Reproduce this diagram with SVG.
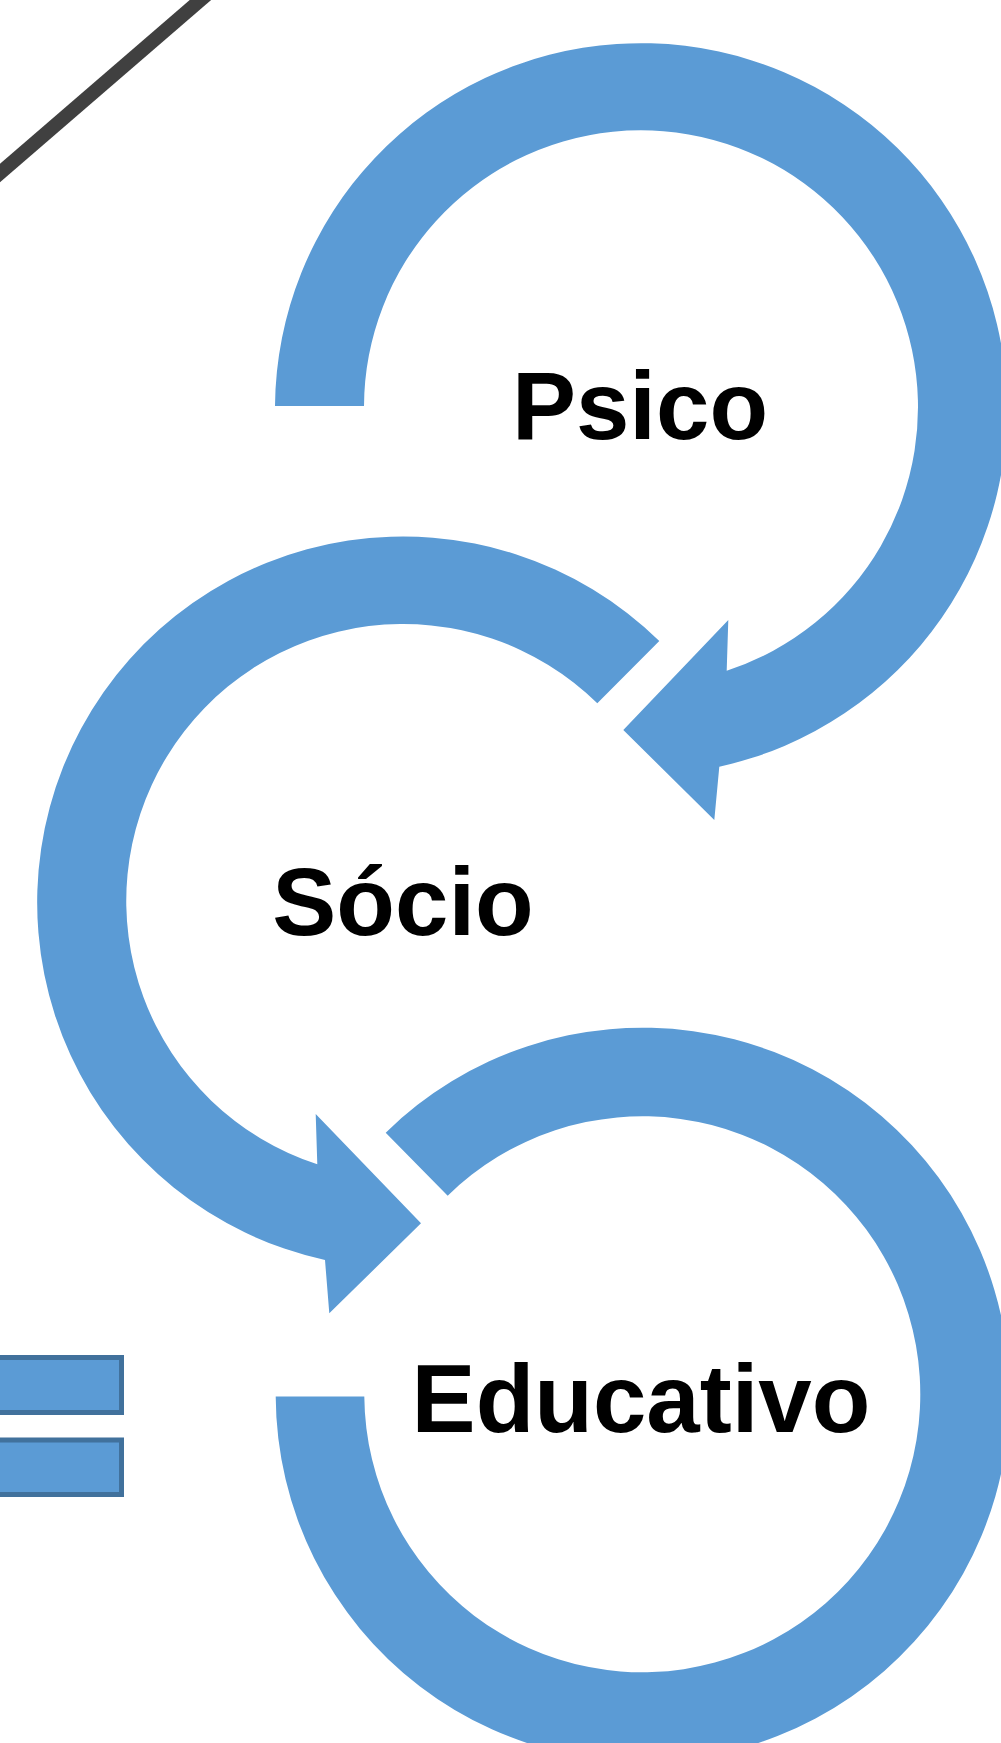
<svg xmlns="http://www.w3.org/2000/svg" width="1001" height="1743" viewBox="0 0 1001 1743">
<style>
.arrow{fill:#5B9BD5;stroke:none}
.lbl{font-family:"Liberation Sans",Arial,sans-serif;font-weight:bold;font-size:96px;fill:#000;text-anchor:middle}
.box{fill:#5B9BD5;stroke:#41719C;stroke-width:5}
</style>
<rect x="0" y="0" width="1001" height="1743" fill="#FFFFFF"/>
<g id="line">
<line x1="-20" y1="190.3" x2="220" y2="-16.9" stroke="#404040" stroke-width="14"/>
</g>
<g id="connectors">
<path id="arc-psico" class="arrow" d="M 275 406 A 366 366 0 1 1 719.3 766.7 L 714.3 820 L 623.3 730 L 728.3 620 L 726.7 670.7 A 277 277 0 1 0 364 406 Z"/>
<path id="arc-socio" class="arrow" d="M 659.3 641 A 366 366 0 1 0 325 1260 L 329.3 1313.3 L 421 1223.3 L 315.7 1114 L 317.3 1164.3 A 277 277 0 1 1 597.3 703.3 Z"/>
<path id="arc-educativo" class="arrow" d="M 385.7 1132.7 A 367 367 0 1 1 275.7 1396.5 L 364.3 1396.5 A 278 278 0 1 0 447.7 1195.7 Z"/>
</g>
<g id="node-psico">
<text class="lbl" x="640" y="439.3">Psico</text>
</g>
<g id="node-socio">
<text class="lbl" x="403" y="935.4">Sócio</text>
</g>
<g id="node-educativo">
<text class="lbl" x="641" y="1432.4">Educativo</text>
</g>
<g id="boxes">
<rect class="box" x="-10" y="1357.5" width="131.5" height="55"/>
<rect class="box" x="-10" y="1440" width="131.5" height="54.5"/>
</g>
</svg>
